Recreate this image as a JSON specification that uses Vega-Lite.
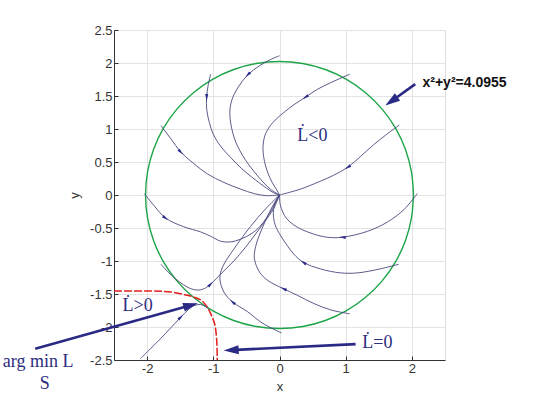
{
  "$schema": "https://vega.github.io/schema/vega-lite/v6.json",
  "width": 331,
  "height": 330,
  "autosize": {"type": "none"},
  "padding": {"left": 114, "top": 30, "right": 95, "bottom": 45},
  "background": "white",
  "config": {
    "view": {"stroke": "#dcdcdc"},
    "axis": {
      "labelFont": "Liberation Sans", "titleFont": "Liberation Sans",
      "labelFontSize": 13, "titleFontSize": 13, "titleFontWeight": "normal",
      "labelColor": "#333333", "titleColor": "#333333",
      "domainColor": "#333333", "tickColor": "#333333", "gridColor": "#e3e3e3",
      "tickSize": -4, "labelPadding": 6, "labelOverlap": false
    }
  },
  "datasets": {
    "circle": [
      {"i":0,"x":2.0237,"y":0},{"i":1,"x":1.9929,"y":0.3514},{"i":2,"x":1.9017,"y":0.6921},{"i":3,"x":1.7526,"y":1.0119},
      {"i":4,"x":1.5502,"y":1.3008},{"i":5,"x":1.3008,"y":1.5502},{"i":6,"x":1.0119,"y":1.7526},{"i":7,"x":0.6921,"y":1.9017},
      {"i":8,"x":0.3514,"y":1.9929},{"i":9,"x":0,"y":2.0237},{"i":10,"x":-0.3514,"y":1.9929},{"i":11,"x":-0.6921,"y":1.9017},
      {"i":12,"x":-1.0119,"y":1.7526},{"i":13,"x":-1.3008,"y":1.5502},{"i":14,"x":-1.5502,"y":1.3008},{"i":15,"x":-1.7526,"y":1.0119},
      {"i":16,"x":-1.9017,"y":0.6921},{"i":17,"x":-1.9929,"y":0.3514},{"i":18,"x":-2.0237,"y":0},{"i":19,"x":-1.9929,"y":-0.3514},
      {"i":20,"x":-1.9017,"y":-0.6921},{"i":21,"x":-1.7526,"y":-1.0119},{"i":22,"x":-1.5502,"y":-1.3008},{"i":23,"x":-1.3008,"y":-1.5502},
      {"i":24,"x":-1.0119,"y":-1.7526},{"i":25,"x":-0.6921,"y":-1.9017},{"i":26,"x":-0.3514,"y":-1.9929},{"i":27,"x":0,"y":-2.0237},
      {"i":28,"x":0.3514,"y":-1.9929},{"i":29,"x":0.6921,"y":-1.9017},{"i":30,"x":1.0119,"y":-1.7526},{"i":31,"x":1.3008,"y":-1.5502},
      {"i":32,"x":1.5502,"y":-1.3008},{"i":33,"x":1.7526,"y":-1.0119},{"i":34,"x":1.9017,"y":-0.6921},{"i":35,"x":1.9929,"y":-0.3514},
      {"i":36,"x":2.0237,"y":0}
    ],
    "red": [
      {"i":0,"x":-2.5,"y":-1.455},{"i":1,"x":-1.95,"y":-1.455},{"i":2,"x":-1.64,"y":-1.47},{"i":3,"x":-1.39,"y":-1.52},
      {"i":4,"x":-1.19,"y":-1.59},{"i":5,"x":-1.09,"y":-1.70},{"i":6,"x":-1.03,"y":-1.82},{"i":7,"x":-0.98,"y":-1.95},
      {"i":8,"x":-0.95,"y":-2.18},{"i":9,"x":-0.94,"y":-2.5}
    ],
    "traj": [
      {"t":"T1","i":0,"x":0,"y":2.11},{"t":"T1","i":1,"x":-0.14,"y":2.05},{"t":"T1","i":2,"x":-0.30,"y":1.96},{"t":"T1","i":3,"x":-0.48,"y":1.82},
      {"t":"T1","i":4,"x":-0.62,"y":1.64},{"t":"T1","i":5,"x":-0.72,"y":1.44},{"t":"T1","i":6,"x":-0.75,"y":1.26},{"t":"T1","i":7,"x":-0.73,"y":1.05},
      {"t":"T1","i":8,"x":-0.66,"y":0.80},{"t":"T1","i":9,"x":-0.52,"y":0.54},{"t":"T1","i":10,"x":-0.33,"y":0.29},{"t":"T1","i":11,"x":-0.14,"y":0.09},{"t":"T1","i":12,"x":0,"y":0},

      {"t":"T2","i":0,"x":-1.04,"y":1.83},{"t":"T2","i":1,"x":-1.08,"y":1.65},{"t":"T2","i":2,"x":-1.10,"y":1.48},{"t":"T2","i":3,"x":-1.10,"y":1.30},
      {"t":"T2","i":4,"x":-1.06,"y":1.10},{"t":"T2","i":5,"x":-1.00,"y":0.92},{"t":"T2","i":6,"x":-0.89,"y":0.74},{"t":"T2","i":7,"x":-0.74,"y":0.57},
      {"t":"T2","i":8,"x":-0.55,"y":0.38},{"t":"T2","i":9,"x":-0.30,"y":0.18},{"t":"T2","i":10,"x":-0.10,"y":0.04},{"t":"T2","i":11,"x":0,"y":0},

      {"t":"T3","i":0,"x":-1.79,"y":1.05},{"t":"T3","i":1,"x":-1.64,"y":0.85},{"t":"T3","i":2,"x":-1.49,"y":0.65},{"t":"T3","i":3,"x":-1.30,"y":0.48},
      {"t":"T3","i":4,"x":-1.09,"y":0.32},{"t":"T3","i":5,"x":-0.84,"y":0.19},{"t":"T3","i":6,"x":-0.59,"y":0.09},{"t":"T3","i":7,"x":-0.38,"y":0.02},
      {"t":"T3","i":8,"x":-0.20,"y":-0.01},{"t":"T3","i":9,"x":0,"y":0},

      {"t":"T4","i":0,"x":1.06,"y":1.83},{"t":"T4","i":1,"x":0.77,"y":1.70},{"t":"T4","i":2,"x":0.57,"y":1.60},{"t":"T4","i":3,"x":0.39,"y":1.48},
      {"t":"T4","i":4,"x":0.22,"y":1.37},{"t":"T4","i":5,"x":0.09,"y":1.27},{"t":"T4","i":6,"x":-0.05,"y":1.15},{"t":"T4","i":7,"x":-0.14,"y":1.05},
      {"t":"T4","i":8,"x":-0.21,"y":0.93},{"t":"T4","i":9,"x":-0.24,"y":0.82},{"t":"T4","i":10,"x":-0.25,"y":0.70},{"t":"T4","i":11,"x":-0.24,"y":0.58},
      {"t":"T4","i":12,"x":-0.21,"y":0.44},{"t":"T4","i":13,"x":-0.17,"y":0.32},{"t":"T4","i":14,"x":-0.11,"y":0.19},{"t":"T4","i":15,"x":-0.05,"y":0.09},{"t":"T4","i":16,"x":0,"y":0},

      {"t":"T5","i":0,"x":1.81,"y":1.06},{"t":"T5","i":1,"x":1.62,"y":0.92},{"t":"T5","i":2,"x":1.42,"y":0.76},{"t":"T5","i":3,"x":1.22,"y":0.58},
      {"t":"T5","i":4,"x":1.03,"y":0.42},{"t":"T5","i":5,"x":0.82,"y":0.30},{"t":"T5","i":6,"x":0.62,"y":0.21},{"t":"T5","i":7,"x":0.45,"y":0.14},
      {"t":"T5","i":8,"x":0.32,"y":0.09},{"t":"T5","i":9,"x":0.15,"y":0.04},{"t":"T5","i":10,"x":0,"y":0},

      {"t":"T6","i":0,"x":2.08,"y":0.02},{"t":"T6","i":1,"x":1.88,"y":-0.22},{"t":"T6","i":2,"x":1.63,"y":-0.41},{"t":"T6","i":3,"x":1.33,"y":-0.55},
      {"t":"T6","i":4,"x":0.95,"y":-0.64},{"t":"T6","i":5,"x":0.72,"y":-0.64},{"t":"T6","i":6,"x":0.51,"y":-0.59},{"t":"T6","i":7,"x":0.33,"y":-0.52},
      {"t":"T6","i":8,"x":0.21,"y":-0.45},{"t":"T6","i":9,"x":0.11,"y":-0.36},{"t":"T6","i":10,"x":0.05,"y":-0.26},{"t":"T6","i":11,"x":0.01,"y":-0.14},{"t":"T6","i":12,"x":0,"y":0},

      {"t":"T7","i":0,"x":1.80,"y":-1.05},{"t":"T7","i":1,"x":1.52,"y":-1.12},{"t":"T7","i":2,"x":1.18,"y":-1.18},{"t":"T7","i":3,"x":0.92,"y":-1.18},
      {"t":"T7","i":4,"x":0.62,"y":-1.12},{"t":"T7","i":5,"x":0.36,"y":-1.02},{"t":"T7","i":6,"x":0.22,"y":-0.90},{"t":"T7","i":7,"x":0.12,"y":-0.77},
      {"t":"T7","i":8,"x":0.02,"y":-0.62},{"t":"T7","i":9,"x":-0.06,"y":-0.47},{"t":"T7","i":10,"x":-0.09,"y":-0.34},{"t":"T7","i":11,"x":-0.09,"y":-0.22},
      {"t":"T7","i":12,"x":-0.06,"y":-0.10},{"t":"T7","i":13,"x":0,"y":0},

      {"t":"T8","i":0,"x":1.06,"y":-1.80},{"t":"T8","i":1,"x":0.77,"y":-1.74},{"t":"T8","i":2,"x":0.51,"y":-1.64},{"t":"T8","i":3,"x":0.27,"y":-1.52},
      {"t":"T8","i":4,"x":0.06,"y":-1.42},{"t":"T8","i":5,"x":-0.17,"y":-1.30},{"t":"T8","i":6,"x":-0.30,"y":-1.17},{"t":"T8","i":7,"x":-0.38,"y":-0.96},
      {"t":"T8","i":8,"x":-0.36,"y":-0.78},{"t":"T8","i":9,"x":-0.32,"y":-0.65},{"t":"T8","i":10,"x":-0.26,"y":-0.50},{"t":"T8","i":11,"x":-0.19,"y":-0.34},
      {"t":"T8","i":12,"x":-0.10,"y":-0.16},{"t":"T8","i":13,"x":0,"y":0},

      {"t":"T9","i":0,"x":-1.79,"y":-1.05},{"t":"T9","i":1,"x":-1.68,"y":-1.17},{"t":"T9","i":2,"x":-1.57,"y":-1.27},{"t":"T9","i":3,"x":-1.45,"y":-1.36},
      {"t":"T9","i":4,"x":-1.34,"y":-1.42},{"t":"T9","i":5,"x":-1.22,"y":-1.44},{"t":"T9","i":6,"x":-1.12,"y":-1.41},{"t":"T9","i":7,"x":-1.04,"y":-1.35},
      {"t":"T9","i":8,"x":-0.87,"y":-1.18},{"t":"T9","i":9,"x":-0.69,"y":-1.00},{"t":"T9","i":10,"x":-0.52,"y":-0.80},{"t":"T9","i":11,"x":-0.36,"y":-0.59},
      {"t":"T9","i":12,"x":-0.22,"y":-0.40},{"t":"T9","i":13,"x":-0.09,"y":-0.21},{"t":"T9","i":14,"x":0,"y":0},

      {"t":"T10","i":0,"x":0.03,"y":-2.09},{"t":"T10","i":1,"x":-0.26,"y":-1.94},{"t":"T10","i":2,"x":-0.48,"y":-1.77},{"t":"T10","i":3,"x":-0.71,"y":-1.62},
      {"t":"T10","i":4,"x":-0.84,"y":-1.47},{"t":"T10","i":5,"x":-0.90,"y":-1.27},{"t":"T10","i":6,"x":-0.86,"y":-1.09},{"t":"T10","i":7,"x":-0.69,"y":-0.82},
      {"t":"T10","i":8,"x":-0.44,"y":-0.48},{"t":"T10","i":9,"x":-0.21,"y":-0.21},{"t":"T10","i":10,"x":0,"y":0},

      {"t":"T11","i":0,"x":-2.04,"y":0.02},{"t":"T11","i":1,"x":-1.88,"y":-0.18},{"t":"T11","i":2,"x":-1.72,"y":-0.35},{"t":"T11","i":3,"x":-1.45,"y":-0.48},
      {"t":"T11","i":4,"x":-1.19,"y":-0.56},{"t":"T11","i":5,"x":-1.03,"y":-0.63},{"t":"T11","i":6,"x":-0.89,"y":-0.70},{"t":"T11","i":7,"x":-0.74,"y":-0.71},
      {"t":"T11","i":8,"x":-0.59,"y":-0.67},{"t":"T11","i":9,"x":-0.43,"y":-0.59},{"t":"T11","i":10,"x":-0.29,"y":-0.47},{"t":"T11","i":11,"x":-0.11,"y":-0.21},{"t":"T11","i":12,"x":0,"y":0},

      {"t":"T12","i":0,"x":-2.10,"y":-2.48},{"t":"T12","i":1,"x":-1.95,"y":-2.33},{"t":"T12","i":2,"x":-1.80,"y":-2.18},{"t":"T12","i":3,"x":-1.64,"y":-2.01},
      {"t":"T12","i":4,"x":-1.49,"y":-1.85},{"t":"T12","i":5,"x":-1.38,"y":-1.74},{"t":"T12","i":6,"x":-1.30,"y":-1.68},{"t":"T12","i":7,"x":-1.19,"y":-1.66},
      {"t":"T12","i":8,"x":-1.12,"y":-1.69},{"t":"T12","i":9,"x":-1.07,"y":-1.73}
    ],
    "heads": [
      {"x":-0.48,"y":1.82,"ang":223},{"x":-1.10,"y":1.48,"ang":180},{"x":-1.49,"y":0.65,"ang":135},
      {"x":0.39,"y":1.48,"ang":238},{"x":1.03,"y":0.42,"ang":236},{"x":0.95,"y":-0.64,"ang":273},
      {"x":0.36,"y":-1.02,"ang":305},{"x":0.06,"y":-1.42,"ang":296},{"x":-1.04,"y":-1.35,"ang":45},
      {"x":-0.71,"y":-1.62,"ang":310},{"x":-1.72,"y":-0.35,"ang":124},{"x":-1.49,"y":-1.85,"ang":47}
    ],
    "annoLines": [
      {"a":"A1","i":0,"x":2.05,"y":1.68},{"a":"A1","i":1,"x":1.69,"y":1.42},
      {"a":"A2","i":0,"x":-3.69,"y":-2.33},{"a":"A2","i":1,"x":-1.34,"y":-1.67},
      {"a":"A3","i":0,"x":1.15,"y":-2.26},{"a":"A3","i":1,"x":-0.73,"y":-2.35}
    ],
    "annoHeads": [
      {"x":1.69,"y":1.42,"ang":235},
      {"x":-1.34,"y":-1.67,"ang":74},
      {"x":-0.73,"y":-2.35,"ang":267}
    ],
    "serifText": [
      {"x":0.27,"y":0.82,"label":"L̇<0"},
      {"x":-2.37,"y":-1.76,"label":"L̇>0"},
      {"x":1.25,"y":-2.32,"label":"L̇=0"},
      {"x":-4.18,"y":-2.61,"label":"arg min L"},
      {"x":-3.62,"y":-2.94,"label":"S"}
    ],
    "sansText": [
      {"x":2.16,"y":1.64,"label":"x²+y²=4.0955"}
    ]
  },
  "layer": [
    {
      "data": {"name": "circle"},
      "mark": {"type": "line", "color": "#1ea548", "strokeWidth": 1.4, "interpolate": "catmull-rom"},
      "encoding": {
        "x": {"field": "x", "type": "quantitative",
              "scale": {"domain": [-2.5, 2.5], "nice": false, "zero": false},
              "axis": {"values": [-2, -1, 0, 1, 2], "labelExpr": "'' + datum.value", "title": "x", "titlePadding": 5}},
        "y": {"field": "y", "type": "quantitative",
              "scale": {"domain": [-2.5, 2.5], "nice": false, "zero": false},
              "axis": {"tickCount": 10, "labelExpr": "'' + datum.value", "title": "y", "titlePadding": 8, "labelOverlap": false, "labelFlush": false}},
        "order": {"field": "i", "type": "quantitative"}
      }
    },
    {
      "data": {"name": "red"},
      "mark": {"type": "line", "color": "#e0201c", "strokeWidth": 1.5, "strokeDash": [8, 2], "interpolate": "catmull-rom"},
      "encoding": {
        "x": {"field": "x", "type": "quantitative"},
        "y": {"field": "y", "type": "quantitative"},
        "order": {"field": "i", "type": "quantitative"}
      }
    },
    {
      "data": {"name": "traj"},
      "mark": {"type": "line", "color": "#48487e", "strokeWidth": 0.9, "interpolate": "catmull-rom"},
      "encoding": {
        "x": {"field": "x", "type": "quantitative"},
        "y": {"field": "y", "type": "quantitative"},
        "detail": {"field": "t"},
        "order": {"field": "i", "type": "quantitative"}
      }
    },
    {
      "data": {"name": "heads"},
      "mark": {"type": "point", "shape": "M0,-1L0.45,1L-0.45,1Z", "filled": true, "color": "#2a2a8a", "size": 45, "opacity": 1},
      "encoding": {
        "x": {"field": "x", "type": "quantitative"},
        "y": {"field": "y", "type": "quantitative"},
        "angle": {"field": "ang", "type": "quantitative", "scale": {"domain": [0, 360], "range": [0, 360]}}
      }
    },
    {
      "data": {"name": "annoLines"},
      "mark": {"type": "line", "color": "#2a2a86", "strokeWidth": 2.6},
      "encoding": {
        "x": {"field": "x", "type": "quantitative"},
        "y": {"field": "y", "type": "quantitative"},
        "detail": {"field": "a"},
        "order": {"field": "i", "type": "quantitative"}
      }
    },
    {
      "data": {"name": "annoHeads"},
      "mark": {"type": "point", "shape": "M0,-1L0.6,1L-0.6,1Z", "filled": true, "color": "#2a2a86", "size": 225, "opacity": 1},
      "encoding": {
        "x": {"field": "x", "type": "quantitative"},
        "y": {"field": "y", "type": "quantitative"},
        "angle": {"field": "ang", "type": "quantitative", "scale": {"domain": [0, 360], "range": [0, 360]}}
      }
    },
    {
      "data": {"name": "serifText"},
      "mark": {"type": "text", "font": "Liberation Serif", "fontSize": 18, "color": "#2c2c80", "align": "left", "baseline": "alphabetic"},
      "encoding": {
        "x": {"field": "x", "type": "quantitative"},
        "y": {"field": "y", "type": "quantitative"},
        "text": {"field": "label"}
      }
    },
    {
      "data": {"name": "sansText"},
      "mark": {"type": "text", "font": "Liberation Sans", "fontSize": 14, "fontWeight": "bold", "color": "#111111", "align": "left", "baseline": "alphabetic"},
      "encoding": {
        "x": {"field": "x", "type": "quantitative"},
        "y": {"field": "y", "type": "quantitative"},
        "text": {"field": "label"}
      }
    }
  ]
}
